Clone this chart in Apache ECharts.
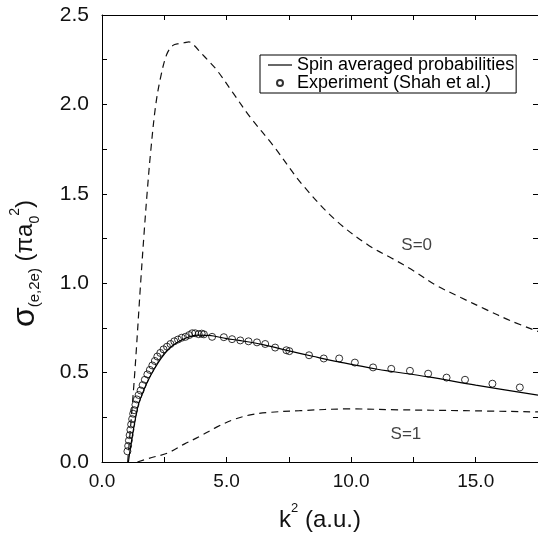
<!DOCTYPE html>
<html>
<head>
<meta charset="utf-8">
<script src="https://cdn.jsdelivr.net/npm/echarts@6/dist/echarts.min.js"></script>
<style>
html,body{margin:0;padding:0;background:#fff;}
#chart{width:538px;height:537px;}
</style>
</head>
<body>
<div id="chart"></div>
<script>
// ---- data ----
var xTicks = [0, 2.5, 5, 7.5, 10, 12.5, 15, 17.5];
var yTicks = [0, 0.25, 0.5, 0.75, 1, 1.25, 1.5, 1.75, 2, 2.25, 2.5];

var s0K = [1.03, 1.30, 1.55, 1.70, 1.82, 1.95, 2.15, 2.35, 2.60, 2.85, 3.10, 3.30, 3.49, 3.70, 3.96, 4.30, 4.62, 5.28, 5.94, 6.87, 8.05, 9.40, 10.72, 11.63, 12.50, 13.39, 14.40, 15.38, 16.40, 17.50];
var s0V = [0.00, 0.47, 1.00, 1.30, 1.52, 1.73, 1.99, 2.15, 2.28, 2.33, 2.34, 2.345, 2.35, 2.33, 2.29, 2.24, 2.19, 2.06, 1.93, 1.77, 1.55, 1.35, 1.21, 1.14, 1.07, 0.99, 0.92, 0.855, 0.79, 0.73];

var s1K = [1.42, 2.00, 2.63, 3.30, 3.96, 4.60, 5.28, 5.90, 6.60, 7.93, 9.92, 11.90, 14.55, 17.50];
var s1V = [0.000, 0.025, 0.050, 0.100, 0.146, 0.195, 0.237, 0.262, 0.276, 0.287, 0.297, 0.292, 0.287, 0.280];

var avgK = [1.06, 1.12, 1.20, 1.30, 1.44, 1.60, 1.83, 2.10, 2.37, 2.70, 3.03, 3.40, 3.83, 4.30, 5.00, 5.50, 6.50, 7.55, 8.50, 9.50, 11.00, 13.10, 15.00, 17.50];
var avgV = [0.00, 0.06, 0.13, 0.21, 0.31, 0.375, 0.45, 0.52, 0.58, 0.635, 0.67, 0.695, 0.71, 0.708, 0.69, 0.68, 0.655, 0.62, 0.59, 0.56, 0.52, 0.476, 0.43, 0.374];

var expK = [1.02, 1.05, 1.08, 1.11, 1.14, 1.17, 1.21, 1.25, 1.29, 1.34, 1.40, 1.47, 1.55, 1.63, 1.72, 1.82, 1.92, 2.02, 2.12, 2.22, 2.34, 2.47, 2.61, 2.75, 2.90, 3.05, 3.20, 3.35, 3.50, 3.62, 3.74, 3.88, 4.00, 4.09, 4.42, 4.89, 5.22, 5.55, 5.88, 6.22, 6.55, 6.95, 7.40, 7.52, 8.31, 8.90, 9.52, 10.15, 10.88, 11.61, 12.36, 13.09, 13.83, 14.57, 15.67, 16.77];
var expV = [0.06, 0.09, 0.12, 0.15, 0.18, 0.21, 0.24, 0.27, 0.29, 0.32, 0.35, 0.375, 0.40, 0.43, 0.46, 0.49, 0.515, 0.54, 0.565, 0.59, 0.61, 0.63, 0.645, 0.66, 0.675, 0.685, 0.695, 0.70, 0.71, 0.72, 0.72, 0.715, 0.718, 0.714, 0.70, 0.698, 0.687, 0.68, 0.675, 0.669, 0.66, 0.64, 0.625, 0.62, 0.597, 0.579, 0.579, 0.556, 0.529, 0.521, 0.51, 0.494, 0.472, 0.46, 0.438, 0.417];

var notes = ['S=0', 'S=1'];
var noteK = [12.63, 12.2];
var noteV = [1.21, 0.157];

var legendNames = ['Spin averaged probabilities', 'Experiment (Shah et al.)'];

function zip(a, b) { return a.map(function (v, i) { return [v, b[i]]; }); }

var FONT = '"Liberation Sans", Arial, Helvetica, sans-serif';
var chart = echarts.init(document.getElementById('chart'), null, {renderer: 'canvas'});

function fmtX(v) { return (Math.abs(v % 5) < 1e-6) ? v.toFixed(1) : ''; }
function fmtY(v) { var t = v * 2; return (Math.abs(t - Math.round(t)) < 1e-6) ? v.toFixed(1) : ''; }

var lineAx = {show: true, onZero: false, lineStyle: {color: '#000', width: 1}};
var tickAx = {show: true, inside: true, length: 5, lineStyle: {color: '#000', width: 1}};

chart.setOption({
  animation: false,
  backgroundColor: '#fff',
  grid: {left: 101, top: 15, right: -2, bottom: 60, containLabel: false},
  legend: {
    data: [
      {name: legendNames[0], icon: 'path://M0,0h20v1h-20z'},
      {name: legendNames[1], icon: 'circle'}
    ],
    orient: 'vertical',
    left: 260, top: 55,
    borderColor: '#000', borderWidth: 1,
    padding: [1, 2, 1, 8],
    itemGap: 0, itemWidth: 24, itemHeight: 6,
    selectedMode: false,
    textStyle: {fontFamily: FONT, fontSize: 18, lineHeight: 18, color: '#000'}
  },
  xAxis: [{
    type: 'value', min: 0, max: 17.5, interval: 2.5,
    axisLine: lineAx, axisTick: tickAx, splitLine: {show: false},
    axisLabel: {formatter: fmtX, fontFamily: FONT, fontSize: 19, color: '#111', margin: 10, showMaxLabel: false},
    name: '{t|k}{sup|2}{t| (a.u.)}', nameLocation: 'middle', nameGap: 40,
    nameTextStyle: {
      rich: {
        t: {fontFamily: FONT, fontSize: 24, color: '#111', lineHeight: 30, verticalAlign: 'bottom'},
        sup: {fontFamily: FONT, fontSize: 13, color: '#111', lineHeight: 30, verticalAlign: 'top'}
      }
    }
  }, {
    type: 'value', position: 'top', min: 0, max: 17.5, interval: 2.5,
    axisLine: lineAx, axisTick: tickAx, splitLine: {show: false},
    axisLabel: {show: false}
  }],
  yAxis: [{
    type: 'value', min: 0, max: 2.5, interval: 0.25,
    axisLine: lineAx, axisTick: tickAx, splitLine: {show: false},
    axisLabel: {formatter: fmtY, fontFamily: FONT, fontSize: 21, color: '#111', margin: 13},
    name: '{s|σ}{sub|(e,2e)}{m| (πa}{sub2|0}{sup|2}{m|)}',
    nameLocation: 'middle', nameRotate: 90, nameGap: 60,
    nameTextStyle: {
      padding: [0, 50, 0, 0],
      rich: {
        s: {fontFamily: FONT, fontSize: 32, color: '#111', lineHeight: 34, verticalAlign: 'middle'},
        sub: {fontFamily: FONT, fontSize: 15, color: '#111', lineHeight: 34, verticalAlign: 'bottom'},
        m: {fontFamily: FONT, fontSize: 24, color: '#111', lineHeight: 34, verticalAlign: 'middle'},
        sub2: {fontFamily: FONT, fontSize: 14, color: '#111', lineHeight: 34, verticalAlign: 'bottom'},
        sup: {fontFamily: FONT, fontSize: 14, color: '#111', lineHeight: 34, verticalAlign: 'top'}
      }
    }
  }, {
    type: 'value', position: 'right', min: 0, max: 2.5, interval: 0.25,
    axisLine: lineAx, axisTick: tickAx, splitLine: {show: false},
    axisLabel: {show: false}
  }],
  series: [{
    name: 'S=0 curve', type: 'line', data: zip(s0K, s0V),
    symbol: 'none', smooth: 0.35, silent: true,
    lineStyle: {color: '#111', width: 1.2, type: [7, 5]}
  }, {
    name: 'S=1 curve', type: 'line', data: zip(s1K, s1V),
    symbol: 'none', smooth: 0.35, silent: true,
    lineStyle: {color: '#111', width: 1.2, type: [7, 5]}
  }, {
    name: legendNames[0], type: 'line', data: zip(avgK, avgV),
    symbol: 'none', smooth: 0.35, silent: true,
    lineStyle: {color: '#000', width: 1.2}, itemStyle: {color: '#000'}
  }, {
    name: legendNames[1], type: 'scatter', data: zip(expK, expV),
    symbol: 'circle', symbolSize: 7, silent: true,
    itemStyle: {color: 'rgba(255,255,255,0)', borderColor: '#000', borderWidth: 1}
  }, {
    name: 'notes', type: 'scatter', silent: true, symbolSize: 0,
    data: notes.map(function (n, i) { return {value: [noteK[i], noteV[i]], name: n}; }),
    label: {show: true, position: 'inside', formatter: '{b}', fontFamily: FONT, fontSize: 17, color: '#111'}
  }]
});
</script>
</body>
</html>
